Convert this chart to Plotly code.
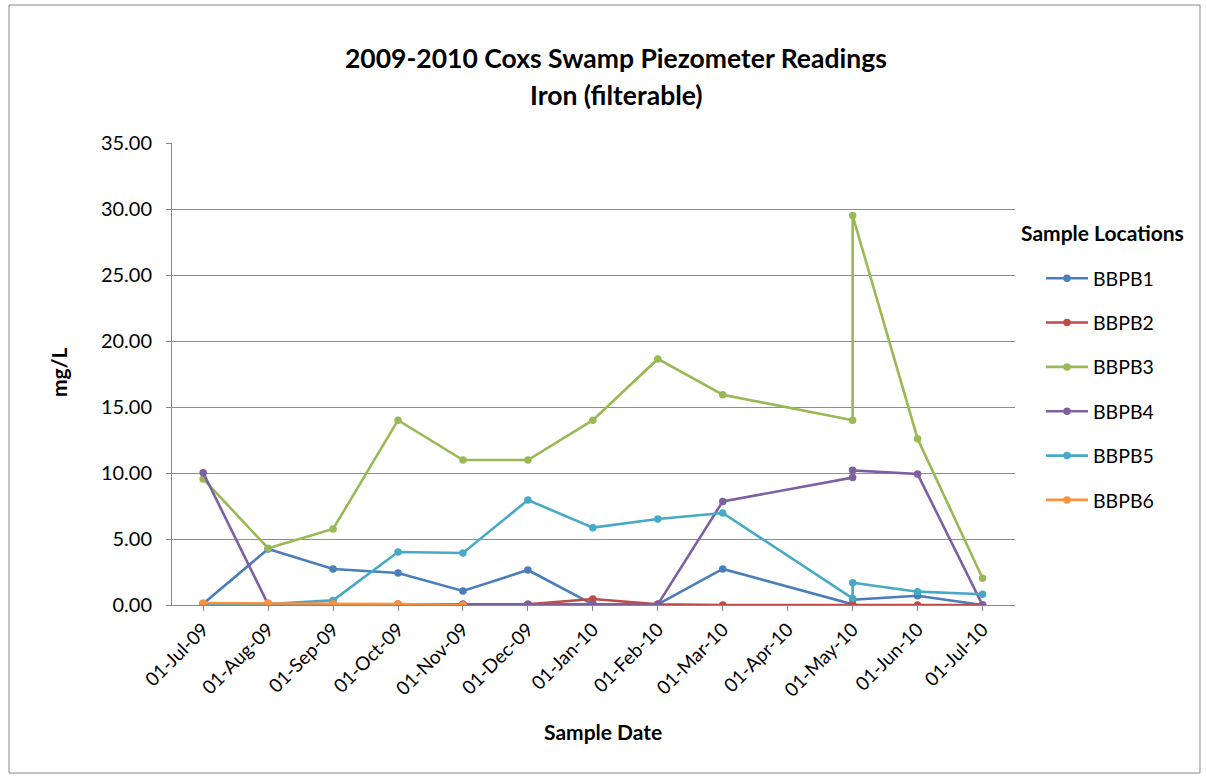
import plotly.graph_objects as go

# ---- data ----
tick_labels = ["01-Jul-09", "01-Aug-09", "01-Sep-09", "01-Oct-09", "01-Nov-09", "01-Dec-09",
               "01-Jan-10", "01-Feb-10", "01-Mar-10", "01-Apr-10", "01-May-10", "01-Jun-10", "01-Jul-10"]
sample_months = ["2009-07", "2009-08", "2009-09", "2009-10", "2009-11", "2009-12",
                 "2010-01", "2010-02", "2010-03", "2010-05", "2010-05", "2010-06", "2010-07"]

BBPB1 = [0.10, 4.24, 2.73, 2.42, 1.06, 2.65, 0.05, 0.05, 2.73, 0.05, 0.40, 0.70, 0.00]
BBPB2 = [0.05, 0.05, 0.05, 0.05, 0.05, 0.05, 0.45, 0.05, 0.00, 0.00, 0.00, 0.00, 0.00]
BBPB3 = [9.55, 4.30, 5.76, 14.00, 10.98, 10.98, 14.00, 18.64, 15.93, 14.00, 29.50, 12.60, 2.03]
BBPB4 = [10.02, 0.05, 0.05, 0.05, 0.05, 0.05, 0.05, 0.05, 7.85, 9.65, 10.20, 9.92, 0.00]
BBPB5 = [0.10, 0.08, 0.35, 4.02, 3.94, 7.95, 5.86, 6.52, 6.97, 0.50, 1.68, 1.01, 0.81]
BBPB6 = [0.15, 0.15, 0.10, 0.07, 0.00, None, None, None, None, None, None, None, None]

series_names = ["BBPB1", "BBPB2", "BBPB3", "BBPB4", "BBPB5", "BBPB6"]
series_values = [BBPB1, BBPB2, BBPB3, BBPB4, BBPB5, BBPB6]
colors = ["#4A7EBB", "#BE4B48", "#98B954", "#7D60A0", "#46AAC5", "#F69240"]

# month offset from Jul-2009 (date axis with monthly base unit)
def month_index(s):
    y, m = s.split("-")
    return (int(y) - 2009) * 12 + int(m) - 7

x_vals = [month_index(s) for s in sample_months]

FONT = "Lato"
fig = go.Figure()
for i, (name, vals, col) in enumerate(zip(series_names, series_values, colors)):
    fig.add_trace(go.Scatter(
        x=x_vals, y=vals, name=name, mode="lines+markers",
        line=dict(color=col, width=2.6),
        marker=dict(color=col, size=7.5),
        legendgroup=name, connectgaps=False,
    ))

L, R, T, B = 172, 1015, 143, 605
W, H = 1207, 776
pw, ph = R - L, B - T

def px(xp):
    return (xp - L) / pw

def py(yp):
    return (B - yp) / ph

fig.update_layout(
    width=W, height=H,
    margin=dict(l=L, r=W - R, t=T, b=H - B, pad=0),
    paper_bgcolor="white", plot_bgcolor="white",
    font=dict(family=FONT, color="#000000", size=16),
    showlegend=True,
    legend=dict(
        x=px(1041), xanchor="left", y=py(259), yanchor="top",
        font=dict(size=19.5, family=FONT),
        traceorder="grouped", tracegroupgap=16,
        itemwidth=42, bgcolor="rgba(0,0,0,0)",
    ),
    xaxis=dict(
        range=[-0.48, 12.5], tickmode="array",
        tickvals=list(range(len(tick_labels))), ticktext=tick_labels,
        tickangle=-45, showgrid=False, zeroline=False,
        showline=True, linecolor="#878787", linewidth=1,
        ticks="outside", ticklen=5, tickcolor="#878787",
        tickfont=dict(size=19, family=FONT),
    ),
    yaxis=dict(
        range=[0, 35], tickvals=[0, 5, 10, 15, 20, 25, 30, 35],
        ticktext=["0.00", "5.00", "10.00", "15.00", "20.00", "25.00", "30.00", "35.00"],
        showgrid=True, gridcolor="#8C8C8C", gridwidth=1, zeroline=False,
        showline=True, linecolor="#878787", linewidth=1,
        ticks="outside", ticklen=5, tickcolor="#878787",
        ticklabelstandoff=10,
        tickfont=dict(size=20, family=FONT),
    ),
)

annotations = [
    dict(text="<b>2009-2010 Coxs Swamp Piezometer Readings</b>", x=px(616), y=py(58),
         font=dict(size=26.5, family=FONT)),
    dict(text="<b>Iron (filterable)</b>", x=px(616), y=py(95), font=dict(size=26.5, family=FONT)),
    dict(text="<b>mg/L</b>", x=px(58), y=py(372), textangle=-90, font=dict(size=21, family=FONT)),
    dict(text="<b>Sample Date</b>", x=px(603), y=py(731), font=dict(size=21, family=FONT)),
    dict(text="<b>Sample Locations</b>", x=px(1019), xanchor="left", y=py(232),
         font=dict(size=21, family=FONT)),
]
for a in annotations:
    a.setdefault("xanchor", "center")
    fig.add_annotation(xref="paper", yref="paper", showarrow=False, yanchor="middle", **a)

# outer chart border
fig.add_shape(type="rect", xref="paper", yref="paper",
              x0=px(9), x1=px(1200), y0=py(773), y1=py(5),
              line=dict(color="#888888", width=1), fillcolor="rgba(0,0,0,0)", layer="below")

fig.write_html("out.html")
